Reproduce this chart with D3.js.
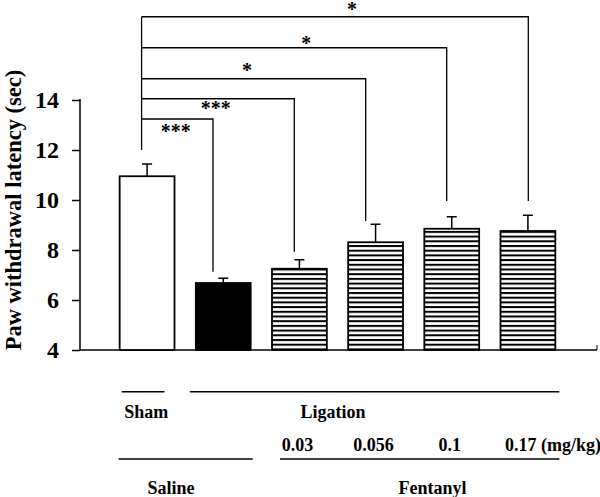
<!DOCTYPE html>
<html><head><meta charset="utf-8">
<script src="https://cdn.jsdelivr.net/npm/d3@7"></script>
<style>
html,body{margin:0;padding:0;background:#fff;}
text{font-family:"Liberation Serif","Times New Roman",serif;font-weight:bold;fill:#000;}
</style></head>
<body><svg id="c" width="600" height="497"></svg>
<script>
// ---- data ----
const groups = ["Sham", "Ligation-Saline", "F0.03", "F0.056", "F0.1", "F0.17"];
const means  = [10.95, 6.68, 7.25, 8.31, 8.85, 8.76];
const errors = [0.49, 0.19, 0.36, 0.72, 0.48, 0.63];
const fills  = ["white", "black", "hatch", "hatch", "hatch", "hatch"];
const yTicks = [4, 6, 8, 10, 12, 14];
const doses  = ["0.03", "0.056", "0.1", "0.17"];
const doseUnit = "(mg/kg)";
// significance brackets vs Sham: target bar index, bracket level, end level (y units), label
const sigTarget = [1, 2, 3, 4, 5];
const sigLevel  = [13.24, 14.05, 14.85, 16.09, 17.33];
const sigEnd    = [7.13, 7.93, 9.16, 9.96, 9.96];
const sigLabel  = ["***", "***", "*", "*", "*"];
const sigStart  = 12.0;
const yTitle = "Paw withdrawal latency (sec)";

// ---- drawing ----
const svg = d3.select("#c");
const y = d3.scaleLinear().domain([4, 14]).range([350, 100]);
const x = d3.scaleBand().domain(groups).range([109, 566]).paddingInner(0.28).paddingOuter(0.14);

const defs = svg.append("defs");
const pat = defs.append("pattern").attr("id", "hatch").attr("patternUnits", "userSpaceOnUse")
  .attr("width", 10).attr("height", 4.7).attr("y", 0.6);
pat.append("rect").attr("width", 10).attr("height", 4.7).attr("fill", "white");
pat.append("rect").attr("width", 10).attr("height", 2).attr("fill", "black");

// y axis
const yAxis = d3.axisLeft(y).tickValues(yTicks).tickSize(8).tickFormat("");
const gy = svg.append("g").attr("transform", "translate(80,0)").call(yAxis);
gy.select(".domain").attr("d", "M0,99V350").attr("stroke", "#000").attr("stroke-width", 1.5);
gy.selectAll(".tick line").attr("stroke", "#000").attr("stroke-width", 1.5);
gy.selectAll(".tick text").remove();
svg.append("g").selectAll("text").data(yTicks).join("text")
  .attr("x", 59).attr("y", d => y(d) + 8.2)
  .attr("text-anchor", "end").attr("font-size", 24).text(d => d3.format("d")(d));

svg.append("text").attr("transform", "translate(20.5,210) rotate(-90)")
  .attr("text-anchor", "middle").attr("font-size", 22.5).text(yTitle);

// x baseline
svg.append("line").attr("x1", 80).attr("x2", 597).attr("y1", 350).attr("y2", 350)
  .attr("stroke", "#000").attr("stroke-width", 1.5);
svg.append("line").attr("x1", 597).attr("x2", 597).attr("y1", 345).attr("y2", 350)
  .attr("stroke", "#000").attr("stroke-width", 1);

// error bars
const bw = x.bandwidth();
const eb = svg.append("g").attr("stroke", "#000").attr("stroke-width", 1.5);
groups.forEach((g, i) => {
  const cx = x(g) + bw / 2;
  eb.append("line").attr("x1", cx).attr("x2", cx).attr("y1", y(means[i])).attr("y2", y(means[i] + errors[i]));
  eb.append("line").attr("x1", cx - 5).attr("x2", cx + 5).attr("y1", y(means[i] + errors[i])).attr("y2", y(means[i] + errors[i]));
});

// bars
svg.append("g").selectAll("rect").data(groups).join("rect")
  .attr("x", d => x(d)).attr("width", bw)
  .attr("y", (d, i) => y(means[i])).attr("height", (d, i) => y(4) - y(means[i]))
  .attr("fill", (d, i) => fills[i] === "hatch" ? "url(#hatch)" : fills[i])
  .attr("stroke", "#000").attr("stroke-width", 1.8);

// significance brackets
const sx = x(groups[0]) + bw / 2 - 5.5;
const bk = svg.append("g").attr("stroke", "#000").attr("stroke-width", 1.3).attr("fill", "none");
bk.append("line").attr("x1", sx).attr("x2", sx).attr("y1", y(d3.max(sigLevel))).attr("y2", y(sigStart));
const starFrac = [0.48, 0.485, 0.47, 0.54, 0.544];
const starDy = [18.5, 16, -2, 1.8, -1.0];
const endXs = [213, 294.3, 365.7, 446.7, 528.3];
sigTarget.forEach((t, k) => {
  const endX = endXs[k];
  bk.append("path").attr("d", `M${sx},${y(sigLevel[k])}H${endX}V${y(sigEnd[k])}`);
  svg.append("text").attr("x", sx + (endX - sx) * starFrac[k]).attr("y", y(sigLevel[k]) + starDy[k])
    .attr("text-anchor", "middle").attr("font-size", 20).text(sigLabel[k]);
});

// group labels below
const gl = svg.append("g").attr("stroke", "#000").attr("stroke-width", 1.5);
const seg = (x1, x2, yy) => gl.append("line").attr("x1", x1).attr("x2", x2).attr("y1", yy).attr("y2", yy);
const L = i => x(groups[i]), R = i => x(groups[i]) + bw, C = i => x(groups[i]) + bw / 2;
seg(L(0) + 2, R(0) - 10, 391.7);
seg(L(1) - 6, R(5) + 4, 391.7);
seg(L(0) - 1, R(1) + 2, 459);
seg(L(2) + 8, R(5) + 4, 459);
const lab = (t, xx, yy, anchor) => svg.append("text").attr("x", xx).attr("y", yy)
  .attr("text-anchor", anchor || "middle").attr("font-size", 18).text(t);
lab("Sham", L(0) + 4.5, 418, "start");
lab("Ligation", 333, 418);
doses.forEach((d, i) => {
  const t = svg.append("text").attr("y", 451).attr("font-size", 18);
  if (i === doses.length - 1) {
    t.attr("x", 505).attr("text-anchor", "start").text(d + " " + doseUnit);
  } else {
    t.attr("x", C(i + 2) - 2).attr("text-anchor", "middle").text(d);
  }
});
lab("Saline", 171, 494);
lab("Fentanyl", 432.5, 494);
</script></body></html>
